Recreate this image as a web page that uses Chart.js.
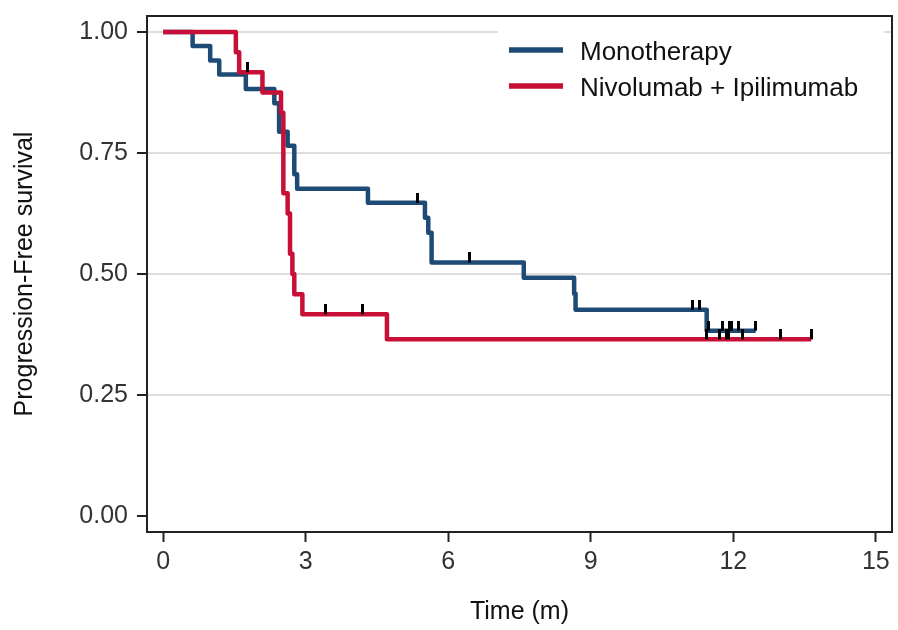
<!DOCTYPE html>
<html lang="en">
<head>
<meta charset="UTF-8">
<title>Progression-Free survival</title>
<script src="https://cdn.jsdelivr.net/npm/chart.js"></script>
<style>
  html, body { margin: 0; padding: 0; background: #fff; }
  #wrap { width: 898px; height: 630px; }
</style>
</head>
<body>
<div id="wrap"><canvas id="pfsChart" width="898" height="630"></canvas></div>
<script>
// Kaplan-Meier steps: time (months) and survival after each event
const monoTimes = [0, 0.62, 0.99, 1.18, 1.74, 2.34, 2.44, 2.62, 2.76, 2.82, 4.31, 5.51, 5.58, 5.65, 7.59, 8.65, 8.68, 11.44, 12.47];
const monoSurv  = [1, 0.971, 0.941, 0.912, 0.882, 0.853, 0.794, 0.765, 0.706, 0.676, 0.647, 0.616, 0.585, 0.524, 0.492, 0.459, 0.426, 0.383, 0.383];
const monoCensor = [5.36, 6.44, 11.14, 11.28, 11.47, 11.77, 11.91, 11.96, 12.1, 12.47];

const comboTimes = [0, 1.53, 1.6, 2.09, 2.48, 2.53, 2.62, 2.67, 2.72, 2.76, 2.93, 4.71, 13.64];
const comboSurv  = [1, 0.958, 0.917, 0.875, 0.833, 0.667, 0.625, 0.542, 0.5, 0.458, 0.417, 0.365, 0.365];
const comboCensor = [1.77, 3.42, 4.2, 11.44, 11.7, 11.86, 11.9, 12.2, 13.0, 13.64];

const seriesLabels = ["Monotherapy", "Nivolumab + Ipilimumab"];
const xTicks = [0, 3, 6, 9, 12, 15];
const yTicks = [0, 0.25, 0.5, 0.75, 1];

const BLUE = "#1d4b76";
const RED = "#c70f37";
const FONT = "'Liberation Sans', Arial, sans-serif";

function survivalAt(times, surv, t) {
  let s = surv[0];
  for (let i = 0; i < times.length; i++) {
    if (times[i] <= t) s = surv[i];
  }
  return s;
}
function toPoints(times, surv) {
  return times.map((t, i) => ({ x: t, y: surv[i] }));
}
function censorPoints(times, surv, cens) {
  return cens.map(t => ({ x: t, y: survivalAt(times, surv, t) }));
}

// censor mark: short black bar sitting on top of the curve
const censorMark = document.createElement("canvas");
censorMark.width = 3;
censorMark.height = 20;
const cm = censorMark.getContext("2d");
cm.fillStyle = "#000";
cm.fillRect(0, 0, 3, 10);

// frame round the plot plus the key box in the top right
const frameAndKey = {
  id: "frameAndKey",
  afterDraw(chart) {
    const { ctx, chartArea: a } = chart;
    ctx.save();
    const bx = a.right - 394, by = a.top + 1;
    ctx.fillStyle = "#fff";
    ctx.fillRect(bx, by, 386, 94);
    const rows = [a.top + 34, a.top + 70];
    const colours = [BLUE, RED];
    ctx.font = "26px " + FONT;
    ctx.textBaseline = "alphabetic";
    ctx.textAlign = "left";
    rows.forEach((ry, i) => {
      ctx.strokeStyle = colours[i];
      ctx.lineWidth = 5.5;
      ctx.beginPath();
      ctx.moveTo(bx + 11, ry);
      ctx.lineTo(bx + 65, ry);
      ctx.stroke();
      ctx.fillStyle = "#111";
      ctx.fillText(seriesLabels[i], bx + 82, ry + 10);
    });
    ctx.strokeStyle = "#222";
    ctx.lineWidth = 2;
    ctx.strokeRect(a.left, a.top, a.right - a.left, a.bottom - a.top);
    ctx.restore();
  }
};

const ctx = document.getElementById("pfsChart").getContext("2d");
new Chart(ctx, {
  type: "scatter",
  data: {
    datasets: [
      {
        label: seriesLabels[0],
        data: toPoints(monoTimes, monoSurv),
        showLine: true,
        stepped: true,
        borderColor: BLUE,
        borderWidth: 4.5,
        borderJoinStyle: "round",
        pointRadius: 0,
        order: 3
      },
      {
        label: seriesLabels[1],
        data: toPoints(comboTimes, comboSurv),
        showLine: true,
        stepped: true,
        borderColor: RED,
        borderWidth: 4.5,
        borderJoinStyle: "round",
        pointRadius: 0,
        order: 2
      },
      {
        label: "censored " + seriesLabels[0],
        data: censorPoints(monoTimes, monoSurv, monoCensor),
        pointStyle: censorMark,
        pointRadius: 5,
        order: 1
      },
      {
        label: "censored " + seriesLabels[1],
        data: censorPoints(comboTimes, comboSurv, comboCensor),
        pointStyle: censorMark,
        pointRadius: 5,
        order: 0
      }
    ]
  },
  options: {
    responsive: false,
    animation: false,
    layout: { padding: { top: 16, right: 2, left: 0, bottom: 0 } },
    plugins: {
      legend: { display: false },
      tooltip: { enabled: false }
    },
    scales: {
      x: {
        type: "linear",
        min: -0.34,
        max: 15.34,
        afterBuildTicks: s => { s.ticks = xTicks.map(v => ({ value: v })); },
        afterFit: s => { s.height = 98; s.paddingLeft = 0; s.paddingRight = 0; },
        border: { display: false },
        grid: {
          color: "rgba(0,0,0,0)",
          tickColor: "#222",
          tickLength: 10,
          tickWidth: 2
        },
        ticks: {
          padding: 5,
          color: "#333",
          font: { family: FONT, size: 25 }
        },
        title: {
          display: true,
          text: "Time (m)",
          color: "#111",
          font: { family: FONT, size: 25 },
          padding: { top: 0, bottom: 3 }
        }
      },
      y: {
        min: -0.033,
        max: 1.033,
        afterBuildTicks: s => { s.ticks = yTicks.map(v => ({ value: v })); },
        afterFit: s => { s.width = 147; s.paddingTop = 0; s.paddingBottom = 0; },
        border: { display: false },
        grid: {
          color: c => (c.tick && c.tick.value === 0 ? "rgba(0,0,0,0)" : "#dedede"),
          lineWidth: 2,
          tickColor: "#222",
          tickLength: 10,
          tickWidth: 2
        },
        ticks: {
          padding: 9,
          color: "#333",
          font: { family: FONT, size: 25 },
          callback: v => v.toFixed(2)
        },
        title: {
          display: true,
          text: "Progression-Free survival",
          color: "#111",
          font: { family: FONT, size: 25 },
          padding: { top: 10, bottom: 0 }
        }
      }
    }
  },
  plugins: [frameAndKey]
});
</script>
</body>
</html>
